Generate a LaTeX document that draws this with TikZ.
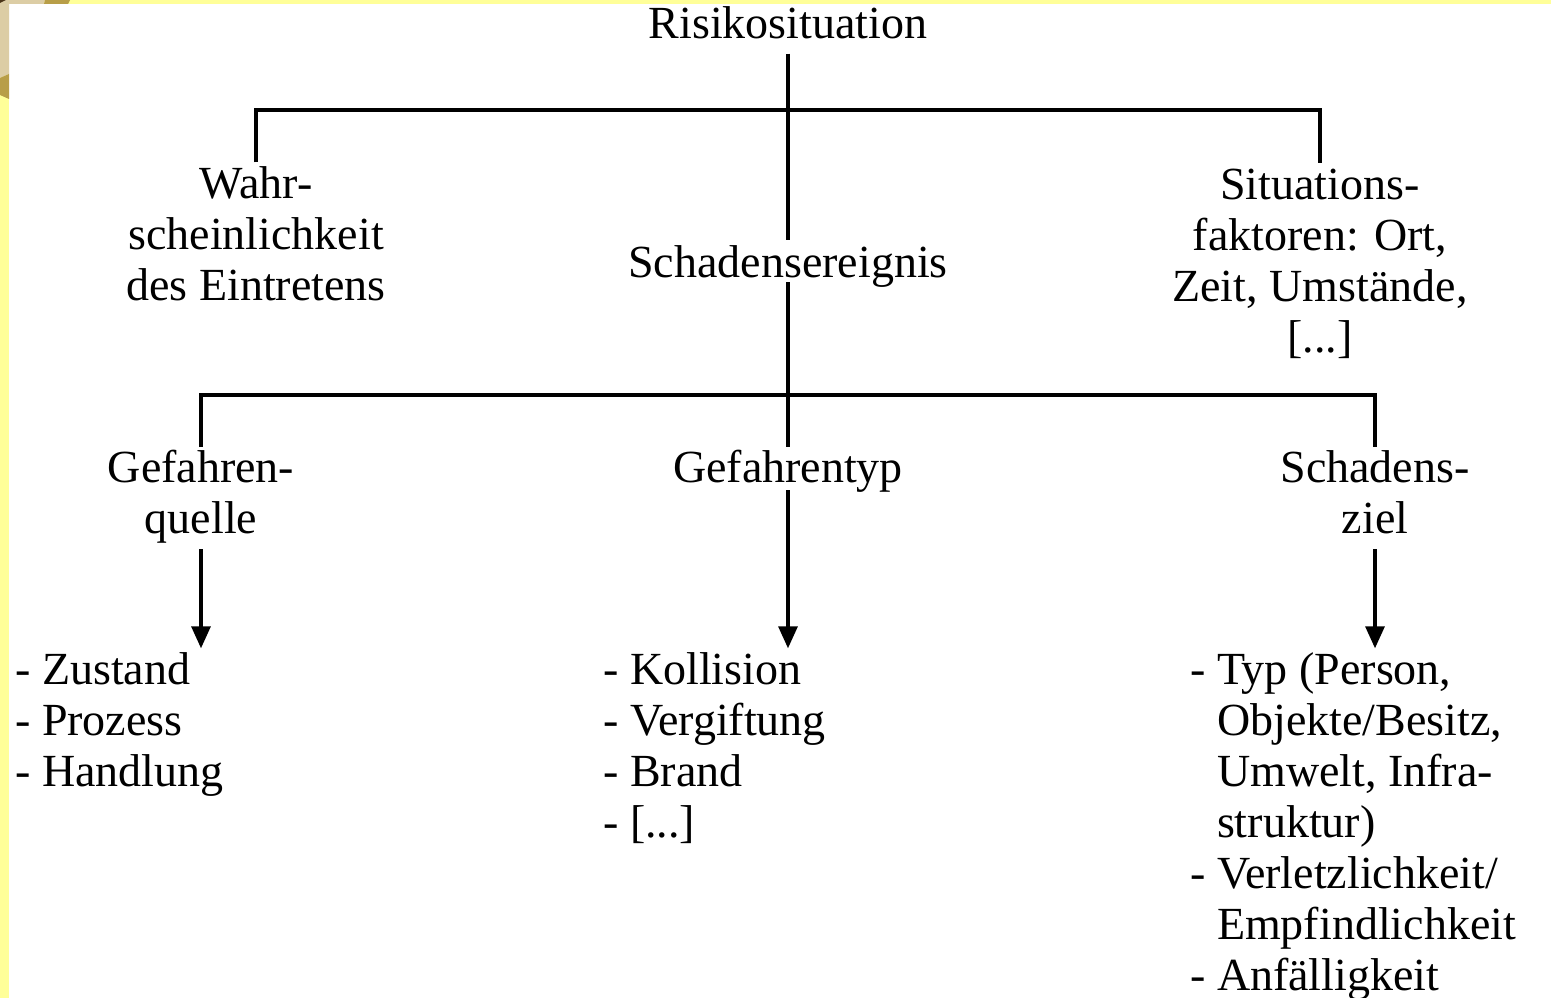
\documentclass[tikz,border=0pt]{standalone}
\usepackage{fontspec}
\setmainfont{Liberation Serif}
\usetikzlibrary{arrows.meta}
\definecolor{bgyellow}{HTML}{FFFF99}
\definecolor{beige}{HTML}{DCCDA5}
\definecolor{darkgold}{HTML}{B89E48}
\definecolor{darkbrown}{HTML}{4A3418}
\begin{document}
\begin{tikzpicture}[x=1pt,y=-1pt,
  txt/.style={inner sep=0pt, font=\fontsize{46}{51}\selectfont},
  ctr/.style={txt, align=center, anchor=north},
  lst/.style={txt, align=left, anchor=north west},
  conn/.style={line width=3.2pt},
  arr/.style={conn, -{Triangle[length=22pt,width=19pt]}}]
\useasboundingbox (0,0) rectangle (1551,998);
% background
\fill[bgyellow] (0,0) rectangle (1551,998);
\fill[white] (9,4) rectangle (1551,998);
\fill[beige] (0,0) -- (45,0) -- (44,4) -- (9,4) -- (9,74) -- (0,78) -- cycle;
\fill[darkgold] (45,0) -- (70,0) -- (68,4) -- (44,4) -- cycle;
\fill[darkgold] (0,78) -- (9,74) -- (9,99) -- (0,95) -- cycle;
\fill[darkbrown] (0,0) -- (6,0) -- (0,3) -- cycle;
% nodes
\node[ctr] (root) at (788,2.3) {\strut Risikosituation};
\node[ctr] (wahr) at (256,162.3) {\strut Wahr-\\scheinlichkeit\\des Eintretens\strut};
\node[ctr, text height=37pt, text depth=5pt] (sch) at (788,240) {Schadensereignis};
\node[ctr] (sit) at (1320,163.3) {\strut Situations-\\faktoren: Ort,\\Zeit, Umstände,\\{[...]}\strut};
\node[ctr] (gq) at (201,447) {\strut Gefahren-\\quelle\strut};
\node[ctr, text height=35pt, text depth=8pt] (gt) at (788,447) {Gefahrentyp};
\node[ctr] (sz) at (1375,447) {\strut Schadens-\\ziel\strut};
\node[lst] (l1) at (15,648.3) {\strut - Zustand\\- Prozess\\- Handlung};
\node[lst] (l2) at (603,648.3) {\strut - Kollision\\- Vergiftung\\- Brand\\- {[...]}};
\node[lst] (l3) at (1190,648.3) {\strut - Typ (Person,\\\hphantom{- }Objekte/Besitz,\\\hphantom{- }Umwelt, Infra-\\\hphantom{- }struktur)\\- Verletzlichkeit/\\\hphantom{- }Empfindlichkeit\\- Anfälligkeit};
% connectors
\coordinate (j1) at (788,110);
\coordinate (j2) at (788,395);
\draw[conn] (root.south) -- (sch.north);
\draw[conn] (wahr.north) |- (j1) -| (sit.north);
\draw[conn] (sch.south) -- (gt.north);
\draw[conn] (gq.north) |- (j2) -| (sz.north);
\draw[arr] (gq.south) -- (gq.south |- l1.north);
\draw[arr] (gt.south) -- (gt.south |- l2.north);
\draw[arr] (sz.south) -- (sz.south |- l3.north);
\end{tikzpicture}
\end{document}
